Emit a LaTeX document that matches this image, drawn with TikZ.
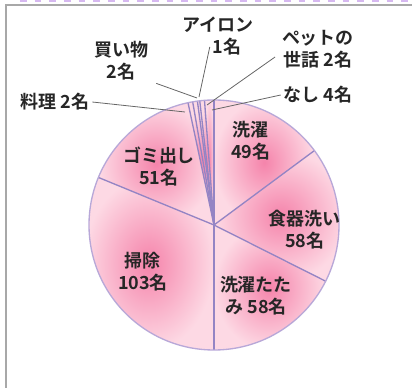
\documentclass[tikz,border=0pt]{standalone}
\usepackage{fontspec}
\setmainfont{Noto Sans CJK JP}[BoldFont={* Bold}]
\usepackage{tikz}

\definecolor{pinkin}{HTML}{F584AB}
\definecolor{pinkout}{HTML}{FDD9E4}
\definecolor{sliceline}{HTML}{9484C4}
\definecolor{rimline}{HTML}{B8A8D8}
\definecolor{dotline}{HTML}{D6B8F0}
\definecolor{frameline}{HTML}{A8A8A8}

\begin{document}
\begin{tikzpicture}[x=0.75pt, y=-0.75pt, every node/.style={font=\fontsize{13.5}{16.5}\selectfont\bfseries, text=black!85}]

		\useasboundingbox (0,0) rectangle (412,388);

		% Define styles for the wedges, labels and leader lines
		\tikzset{
			wedge/.style={inner color=pinkin, outer color=pinkout},
			cut/.style={draw=sliceline, line width=1pt},
			leader/.style={draw=black!60, line width=0.6pt},
			tag/.style={align=center, inner sep=2pt}
		};

		% Frame round the chart, with the dotted band on top
		\draw[dotline, line width=2pt, dash pattern=on 5pt off 6pt] (20,1) -- (412,1);
		\draw[frameline, line width=1.2pt] (6,388) -- (6,5) -- (412,5);

		% Pie centre
		\coordinate (ctr) at (214,225);

		% Wedges, clockwise from the top: start angle / end angle
		\foreach \a/\b in {-90/-36.545, -36.545/26.727, 26.727/90, 90/202.364,
			202.364/258, 258/260.182, 260.182/262.364, 262.364/263.455,
			263.455/265.636, 265.636/270}
		{
			\shade[wedge] (ctr) -- ++(\a:125) arc[start angle=\a, end angle=\b, radius=125] -- cycle;
		}

		% Cuts between the wedges
		\foreach \a in {-90, -36.545, 26.727, 90, 202.364, 258, 260.182, 262.364, 263.455, 265.636}
		{
			\draw[cut] (ctr) -- ++(\a:125);
		}
		\draw[rimline, line width=1pt] (ctr) circle[radius=125];

		% Labels inside the pie
		\node[tag] (wash) at (251,141) {洗濯\\49名};
		\node[tag] (dish) at (305,230) {食器洗い\\58名};
		\node[tag] (fold) at (256,296) {洗濯たた\\み 58名};
		\node[tag] (clean) at (143,272) {掃除\\103名};
		\node[tag] (trash) at (159,167) {ゴミ出し\\51名};

		% Labels outside the pie
		\node[tag] (cook) at (55,102) {料理 2名};
		\node[tag] (shop) at (121,61) {買い物\\2名};
		\node[tag] (iron1) at (218,25) {アイロン};
		\node[tag] (iron2) at (227,47) {1名};
		\node[tag] (pet) at (318,49) {ペットの\\世話 2名};
		\node[tag] (none) at (318,95) {なし 4名};

		% Points on the small wedges
		\coordinate (cookpt) at (185,112);
		\coordinate (shoppt) at (197,98);
		\coordinate (ironpt) at (199,97);
		\coordinate (petpt) at (207,105);
		\coordinate (nonept) at (212,110);

		% Leader lines
		\draw[leader] (cook.east) -- (cookpt);
		\draw[leader] ([xshift=4pt]shop.south east) -- (shoppt);
		\draw[leader] (iron2.west) -- (ironpt);
		\draw[leader] ([xshift=-3pt,yshift=-6pt]pet.west) -- (petpt);
		\draw[leader] (none.west) -- (nonept);
	\end{tikzpicture}
\end{document}
